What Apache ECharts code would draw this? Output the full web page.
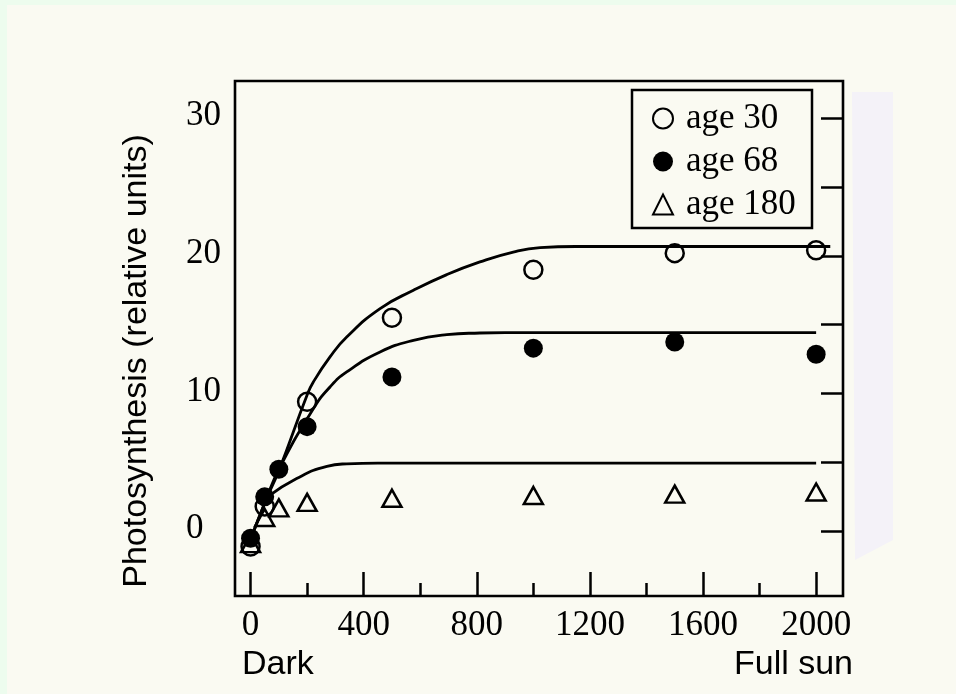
<!DOCTYPE html>
<html>
<head>
<meta charset="utf-8">
<script src="https://cdn.jsdelivr.net/npm/echarts@6/dist/echarts.min.js"></script>
<style>
html,body{margin:0;padding:0;background:#edfcee;}
#chart{width:956px;height:694px;}
</style>
</head>
<body>
<div id="chart"></div>
<script>
// Light level (x) at which measurements were taken
var lightLevels = [0, 50, 100, 200, 500, 1000, 1500, 2000];
// Photosynthesis (relative units) per leaf age
var age30  = [-1.1, 1.8, null, 9.4, 15.5, 19.0, 20.2, 20.4];
var age68  = [-0.5, 2.5, 4.5, 7.6, 11.2, 13.3, 13.75, 12.85];
var age180 = [-0.9, 1.0, 1.7, 2.1, 2.4, 2.6, 2.7, 2.85];

// Fitted curves
var fit30X  = [0, 55, 100, 200, 222, 281, 340, 458, 576, 694, 811, 929, 1024, 1150, 2050];
var fit30Y  = [-0.6, 2.3, 4.4, 9.9, 10.84, 12.66, 14.11, 16.17, 17.5, 18.64, 19.56, 20.28, 20.6, 20.68, 20.68];
var fit68X  = [0, 55, 100, 222, 281, 340, 458, 576, 694, 811, 900, 2000];
var fit68Y  = [-0.6, 2.3, 4.5, 8.9, 10.48, 11.57, 13.02, 13.87, 14.28, 14.4, 14.43, 14.43];
var fit180X = [60, 163, 270, 340, 450, 2000];
var fit180Y = [2.5, 3.83, 4.72, 4.9, 4.95, 4.95];

// Axis ticks / labels
var xLabelTicks = [0, 400, 800, 1200, 1600, 2000];
var xMinorTicks = [200, 600, 1000, 1400, 1800];
var yLabelTicks = [0, 10, 20, 30];
var yRightTicks = [0, 5, 10, 15, 20, 25, 30];

function pairs(xs, ys) {
  var out = [];
  for (var i = 0; i < xs.length; i++) {
    if (ys[i] !== null && ys[i] !== undefined) out.push([xs[i], ys[i]]);
  }
  return out;
}

var serif = '"Liberation Serif", "Times New Roman", serif';
var sans = '"Liberation Sans", Arial, sans-serif';
var chart = echarts.init(document.getElementById('chart'), null, {renderer: 'canvas'});

var lineBase = {
  type: 'line', xAxisIndex: 0, yAxisIndex: 0,
  smooth: 0.5, showSymbol: false, symbol: 'none',
  lineStyle: {color: '#000', width: 2.8}, z: 3, silent: true
};

function plain(v) { return String(v); }

chart.setOption({
  backgroundColor: '#edfcee',
  animation: false,
  grid: {
    left: 235, right: 113, top: 81, bottom: 98,
    show: true, borderColor: '#000', borderWidth: 2.6, backgroundColor: 'transparent'
  },
  xAxis: [{
    type: 'value', position: 'bottom', min: -55, max: 2095,
    axisLine: {show: false, onZero: false},
    splitLine: {show: false},
    axisTick: {show: true, inside: true, length: 24, customValues: xLabelTicks,
               lineStyle: {color: '#000', width: 2.5}},
    axisLabel: {show: true, customValues: xLabelTicks, margin: 12, formatter: plain,
                fontFamily: serif, fontSize: 35, color: '#000'}
  }, {
    type: 'value', position: 'bottom', min: -55, max: 2095,
    axisLine: {show: false, onZero: false},
    splitLine: {show: false},
    axisTick: {show: true, inside: true, length: 13, customValues: xMinorTicks,
               lineStyle: {color: '#000', width: 2.5}},
    axisLabel: {show: false}
  }],
  yAxis: [{
    type: 'value', position: 'left', min: -4.7, max: 32.7,
    axisLine: {show: false, onZero: false},
    splitLine: {show: false},
    axisTick: {show: false},
    axisLabel: {show: true, customValues: yLabelTicks, align: 'left', margin: 49,
                verticalAlign: 'bottom', lineHeight: 4, formatter: plain,
                fontFamily: serif, fontSize: 35, color: '#000'}
  }, {
    type: 'value', position: 'right', min: -4.7, max: 32.7,
    axisLine: {show: false, onZero: false},
    splitLine: {show: false},
    axisTick: {show: true, inside: true, length: 22, customValues: yRightTicks,
               lineStyle: {color: '#000', width: 2.5}},
    axisLabel: {show: false}
  }],
  legend: {
    data: ['age 30', 'age 68', 'age 180'],
    orient: 'vertical', left: 652, top: 101,
    padding: 0, itemGap: 8, itemWidth: 20, itemHeight: 20,
    textStyle: {fontFamily: serif, fontSize: 35, lineHeight: 33, color: '#000', padding: [0, 0, 0, 8]},
    selectedMode: false
  },
  graphic: [
    {type: 'rect', z: -100, silent: true, shape: {x: 7, y: 5, width: 949, height: 689},
     style: {fill: '#fafaf2'}},
    {type: 'polygon', z: -99, silent: true,
     shape: {points: [[852, 92], [893, 92], [893, 540], [855, 560]]},
     style: {fill: '#f4f2f8'}},
    {type: 'rect', z: 50, silent: true, shape: {x: 632, y: 90, width: 180, height: 138},
     style: {fill: 'none', stroke: '#000', lineWidth: 2.5}},
    {type: 'text', z: 50, x: 137, y: 361, rotation: Math.PI / 2,
     style: {text: 'Photosynthesis (relative units)', fontFamily: sans, fontSize: 34,
             fill: '#000', align: 'center', verticalAlign: 'middle'}},
    {type: 'text', z: 50, x: 242, y: 665,
     style: {text: 'Dark', fontFamily: sans, fontSize: 34, fill: '#000',
             align: 'left', verticalAlign: 'middle'}},
    {type: 'text', z: 50, x: 853, y: 665,
     style: {text: 'Full sun', fontFamily: sans, fontSize: 34, fill: '#000',
             align: 'right', verticalAlign: 'middle'}}
  ],
  series: [
    Object.assign({name: 'fit 30', data: pairs(fit30X, fit30Y)}, lineBase),
    Object.assign({name: 'fit 68', data: pairs(fit68X, fit68Y)}, lineBase),
    Object.assign({name: 'fit 180', data: pairs(fit180X, fit180Y)}, lineBase),
    {
      name: 'age 30', type: 'scatter', xAxisIndex: 0, yAxisIndex: 0, z: 5,
      symbol: 'circle', symbolSize: 18,
      itemStyle: {color: 'transparent', borderColor: '#000', borderWidth: 2.5, opacity: 1},
      data: pairs(lightLevels, age30)
    },
    {
      name: 'age 68', type: 'scatter', xAxisIndex: 0, yAxisIndex: 0, z: 6,
      symbol: 'circle', symbolSize: 19,
      itemStyle: {color: '#000', borderColor: '#000', borderWidth: 0, opacity: 1},
      data: pairs(lightLevels, age68)
    },
    {
      name: 'age 180', type: 'scatter', xAxisIndex: 0, yAxisIndex: 0, z: 5,
      symbol: 'triangle', symbolSize: [19, 17],
      itemStyle: {color: 'transparent', borderColor: '#000', borderWidth: 2.5, opacity: 1},
      data: pairs(lightLevels, age180)
    }
  ]
});
</script>
</body>
</html>
